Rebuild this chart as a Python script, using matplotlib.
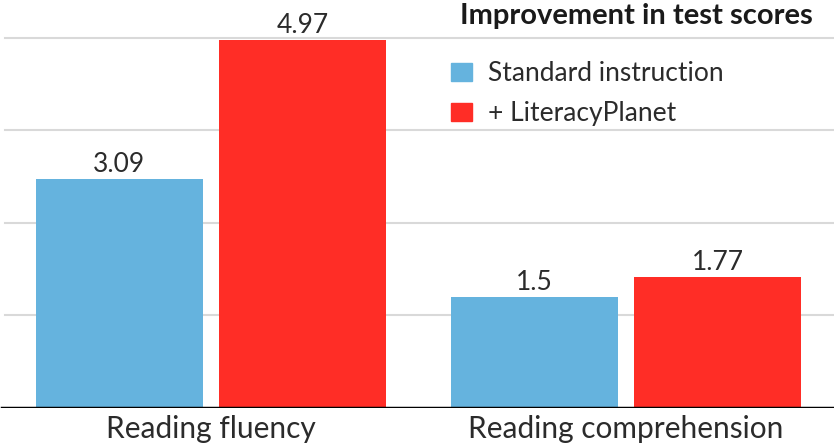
import matplotlib.pyplot as plt
from matplotlib.patches import Patch

plt.rcParams['font.family'] = ['Lato', 'DejaVu Sans']

# data
categories = ['Reading fluency', 'Reading comprehension']
series_names = ['Standard instruction', '+ LiteracyPlanet']
standard = [3.09, 1.5]
literacy = [4.97, 1.77]
labels_standard = ['3.09', '1.5']
labels_literacy = ['4.97', '1.77']

blue = '#65b3de'
red = '#ff2d26'
text_col = '#2b2b2b'

fig = plt.figure(figsize=(8.34, 4.44), dpi=100)
ax = fig.add_axes([0, 36 / 444, 1, 408 / 444])

x = range(len(categories))
w = 0.402
off = 0.2205
b1 = ax.bar([i - off for i in x], standard, w, color=blue, zorder=2)
b2 = ax.bar([i + off for i in x], literacy, w, color=red, zorder=2)

for bars, labs in ((b1, labels_standard), (b2, labels_literacy)):
    for r, lab in zip(bars, labs):
        ax.text(r.get_x() + r.get_width() / 2, r.get_height() + 0.03, lab,
                ha='center', va='bottom', fontsize=19, color=text_col)

ax.set_xlim(-0.508, 1.501)
ax.set_ylim(0, 5.51)

for yv in [1.25, 2.5, 3.75, 5.0]:
    ax.axhline(yv, xmin=5 / 834, xmax=1, color='#d9d9d9', lw=1.5, zorder=1)
ax.axhline(0, xmin=2 / 834, xmax=1, color='black', lw=2.5, zorder=3)

for s in ax.spines.values():
    s.set_visible(False)
ax.set_yticks([])
ax.set_xticks(list(x))
ax.set_xticklabels(categories, fontsize=21.5, color=text_col)
ax.tick_params(axis='x', length=0, pad=5)

fig.text(813 / 834, 1 - 16 / 444, 'Improvement in test scores', ha='right',
         va='center', fontsize=21, fontweight='bold', color='#1a1a1a')

handles = [Patch(color=blue), Patch(color=red)]
ax.legend(handles, series_names, loc='upper left', bbox_to_anchor=(451 / 834, 1 - 61 / 408),
          frameon=False, fontsize=19, handlelength=0.8, handleheight=0.68,
          handletextpad=0.6, labelspacing=0.58, borderpad=0, borderaxespad=0,
          labelcolor=text_col)

fig.savefig('out.png', dpi=100)
